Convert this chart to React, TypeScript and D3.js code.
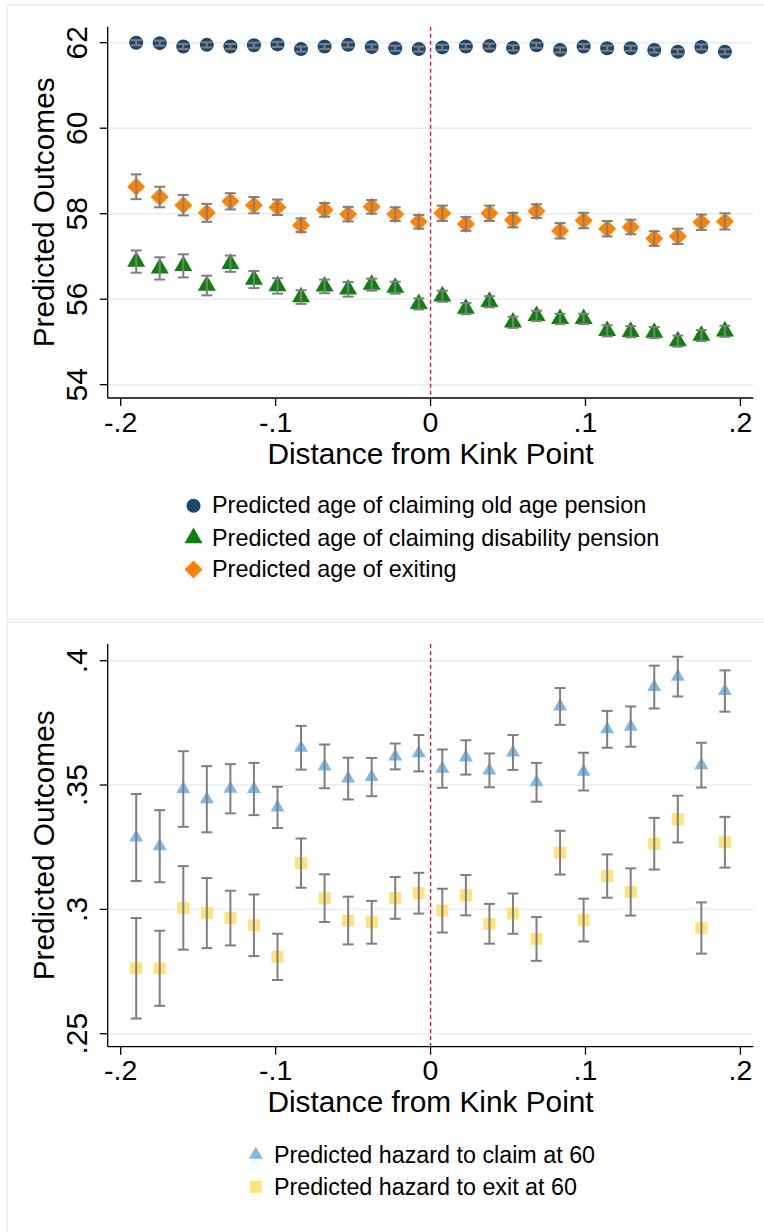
import React from "react";
import * as d3 from "d3";

// ---------- data ----------
const distanceBins = [
  -0.19, -0.1748, -0.1596, -0.1444, -0.1292, -0.114, -0.0988, -0.0836, -0.0684, -0.0532, -0.038, -0.0228, -0.0076,
  0.0076, 0.0228, 0.038, 0.0532, 0.0684, 0.0836, 0.0988, 0.114, 0.1292, 0.1444, 0.1596, 0.1748, 0.19,
];

const ageOldAgePension = [
  62.0, 61.99, 61.91, 61.95, 61.91, 61.94, 61.96, 61.85, 61.91, 61.95, 61.9, 61.87, 61.85,
  61.89, 61.91, 61.92, 61.88, 61.94, 61.83, 61.91, 61.87, 61.87, 61.83, 61.79, 61.9, 61.79,
];
const ageOldAgePensionCI = [
  0.06, 0.06, 0.06, 0.06, 0.06, 0.06, 0.06, 0.06, 0.06, 0.06, 0.06, 0.06, 0.06,
  0.06, 0.06, 0.06, 0.06, 0.06, 0.06, 0.06, 0.06, 0.06, 0.06, 0.06, 0.06, 0.06,
];

const ageDisabilityPension = [
  56.88, 56.72, 56.78, 56.32, 56.83, 56.46, 56.31, 56.05, 56.3, 56.23, 56.34, 56.27, 55.89,
  56.07, 55.78, 55.94, 55.46, 55.61, 55.54, 55.54, 55.26, 55.24, 55.22, 55.02, 55.15, 55.25,
];
const ageDisabilityPensionCI = [
  0.26, 0.26, 0.27, 0.23, 0.19, 0.2, 0.18, 0.16, 0.16, 0.17, 0.14, 0.14, 0.13,
  0.13, 0.13, 0.13, 0.13, 0.12, 0.12, 0.12, 0.13, 0.13, 0.13, 0.13, 0.13, 0.13,
];

const ageExiting = [
  58.63, 58.39, 58.2, 58.02, 58.29, 58.2, 58.15, 57.73, 58.09, 57.99, 58.16, 57.99, 57.81,
  58.01, 57.76, 58.01, 57.85, 58.06, 57.6, 57.84, 57.65, 57.69, 57.42, 57.47, 57.8, 57.82,
];
const ageExitingCI = [
  0.29, 0.24, 0.24, 0.21, 0.19, 0.19, 0.18, 0.16, 0.16, 0.17, 0.16, 0.16, 0.16,
  0.18, 0.16, 0.18, 0.17, 0.16, 0.18, 0.18, 0.18, 0.17, 0.17, 0.18, 0.18, 0.19,
];

const hazardClaim = [
  0.3289, 0.3254, 0.3484, 0.3443, 0.3485, 0.3484, 0.341, 0.365, 0.3575, 0.3526, 0.3532, 0.3615, 0.3628,
  0.3566, 0.3611, 0.3559, 0.3631, 0.3511, 0.3816, 0.3554, 0.3724, 0.3735, 0.3894, 0.3936, 0.358, 0.3878,
];
const hazardClaimCI = [
  0.0175, 0.0145, 0.0152, 0.0133, 0.0099, 0.0105, 0.0083, 0.0088, 0.0088, 0.0084, 0.0077, 0.0052, 0.0073,
  0.0077, 0.0069, 0.0068, 0.007, 0.0078, 0.0074, 0.0076, 0.0074, 0.0081, 0.0086, 0.008, 0.009, 0.0083,
];

const hazardExit = [
  0.2763, 0.2763, 0.3006, 0.2985, 0.2965, 0.2936, 0.2809, 0.3186, 0.3045, 0.2955, 0.2948, 0.3046, 0.3065,
  0.2995, 0.3057, 0.2942, 0.2983, 0.2881, 0.3228, 0.2957, 0.3134, 0.307, 0.3264, 0.3363, 0.2925, 0.327,
];
const hazardExitCI = [
  0.0202, 0.0151, 0.0168, 0.0141, 0.011, 0.0124, 0.0093, 0.0099, 0.0096, 0.0096, 0.0086, 0.0084, 0.0082,
  0.0088, 0.0081, 0.008, 0.0081, 0.0088, 0.0088, 0.0086, 0.0087, 0.0095, 0.0104, 0.0094, 0.0103, 0.0102,
];

const xTicks = [-0.2, -0.1, 0, 0.1, 0.2];
const xTickLabels = ["-.2", "-.1", "0", ".1", ".2"];
const topYTicks = [54, 56, 58, 60, 62];
const topYTickLabels = ["54", "56", "58", "60", "62"];
const bottomYTicks = [0.25, 0.3, 0.35, 0.4];
const bottomYTickLabels = [".25", ".3", ".35", ".4"];

const xTitle = "Distance from Kink Point";
const yTitle = "Predicted Outcomes";

const topLegend = [
  "Predicted age of claiming old age pension",
  "Predicted age of claiming disability pension",
  "Predicted age of exiting",
];
const bottomLegend = ["Predicted hazard to claim at 60", "Predicted hazard to exit at 60"];

// ---------- styles ----------
const FONT = "'Liberation Sans', Arial, Helvetica, sans-serif";
const NAVY = "#1a476f";
const GREEN = "#0b820b";
const ORANGE = "#ff8205";
const LTBLUE = "#7fbae6";
const YELLOW = "#ffe27a";
const BAR = "#7f7f7f";
const GRID = "#e6eef3";
const KINK = "#d8163f";
const FRAME = "#e9eef1";

type Marker = "circle" | "triangle" | "diamond" | "square";

function MarkerShape({ kind, x, y, size, color }: { kind: Marker; x: number; y: number; size: number; color: string }) {
  if (kind === "circle") return <circle cx={x} cy={y} r={size / 2} fill={color} />;
  if (kind === "triangle") {
    const area = (Math.sqrt(3) / 4) * size * size;
    return <path d={d3.symbol(d3.symbolTriangle, area)() || ""} transform={`translate(${x},${y})`} fill={color} />;
  }
  if (kind === "diamond") {
    const side = size / Math.SQRT2;
    return (
      <path d={d3.symbol(d3.symbolSquare, side * side)() || ""} transform={`translate(${x},${y}) rotate(45)`} fill={color} />
    );
  }
  return <path d={d3.symbol(d3.symbolSquare, size * size)() || ""} transform={`translate(${x},${y})`} fill={color} />;
}

type Series = { values: number[]; ci: number[]; marker: Marker; size: number; color: string };

function Panel(props: {
  plotTop: number;
  plotBottom: number;
  yDomain: [number, number];
  yRange: [number, number];
  yTicks: number[];
  yTickLabels: string[];
  series: Series[];
}) {
  const { plotTop, plotBottom, yTicks, yTickLabels, series } = props;
  const left = 107.7;
  const right = 753.3;
  const x = d3.scaleLinear().domain([-0.2, 0.2]).range([120.7, 740.4]);
  const y = d3.scaleLinear().domain(props.yDomain).range(props.yRange);
  const cap = 5.5;
  return (
    <g>
      {yTicks.map((t) => (
        <line key={"g" + t} x1={left} x2={right} y1={y(t)} y2={y(t)} stroke={GRID} strokeWidth={1.6} />
      ))}
      <line x1={x(0)} x2={x(0)} y1={plotTop} y2={plotBottom} stroke={KINK} strokeWidth={1.4} strokeDasharray="4 3" />
      {series.map((s, si) =>
        s.values.map((v, i) => (
          <MarkerShape key={`m${si}-${i}`} kind={s.marker} x={x(distanceBins[i])} y={y(v)} size={s.size} color={s.color} />
        ))
      )}
      {series.map((s, si) =>
        s.values.map((v, i) => {
          const cx = x(distanceBins[i]);
          const y1 = y(v + s.ci[i]);
          const y2 = y(v - s.ci[i]);
          return (
            <g key={`e${si}-${i}`} stroke={BAR} strokeWidth={2}>
              <line x1={cx} x2={cx} y1={y1} y2={y2} />
              <line x1={cx - cap} x2={cx + cap} y1={y1} y2={y1} />
              <line x1={cx - cap} x2={cx + cap} y1={y2} y2={y2} />
            </g>
          );
        })
      )}
      {/* axes */}
      <line x1={left} x2={left} y1={plotTop} y2={plotBottom} stroke="#000" strokeWidth={1.3} />
      <line x1={left} x2={right} y1={plotBottom} y2={plotBottom} stroke="#000" strokeWidth={1.3} />
      {yTicks.map((t, i) => (
        <g key={"yt" + t}>
          <line x1={left - 8} x2={left} y1={y(t)} y2={y(t)} stroke="#000" strokeWidth={1.3} />
          <text
            transform={`translate(86.8,${y(t)}) rotate(-90)`}
            textAnchor="middle"
            fontFamily={FONT}
            fontSize={30}
            fill="#000"
          >
            {yTickLabels[i]}
          </text>
        </g>
      ))}
      {xTicks.map((t, i) => (
        <g key={"xt" + t}>
          <line x1={x(t)} x2={x(t)} y1={plotBottom} y2={plotBottom + 8} stroke="#000" strokeWidth={1.3} />
          <text x={x(t)} y={plotBottom + 33.7} textAnchor="middle" fontFamily={FONT} fontSize={28.5} fill="#000">
            {xTickLabels[i]}
          </text>
        </g>
      ))}
      <text x={(left + right) / 2} y={plotBottom + 65.5} textAnchor="middle" fontFamily={FONT} fontSize={29.8} fill="#000">
        {xTitle}
      </text>
      <text
        transform={`translate(53.8,${(plotTop + plotBottom) / 2}) rotate(-90)`}
        textAnchor="middle"
        fontFamily={FONT}
        fontSize={29.8}
        fill="#000"
      >
        {yTitle}
      </text>
    </g>
  );
}

export default function App() {
  const topSeries: Series[] = [
    { values: ageOldAgePension, ci: ageOldAgePensionCI, marker: "circle", size: 14, color: NAVY },
    { values: ageDisabilityPension, ci: ageDisabilityPensionCI, marker: "triangle", size: 18, color: GREEN },
    { values: ageExiting, ci: ageExitingCI, marker: "diamond", size: 18, color: ORANGE },
  ];
  const bottomSeries: Series[] = [
    { values: hazardClaim, ci: hazardClaimCI, marker: "triangle", size: 14, color: LTBLUE },
    { values: hazardExit, ci: hazardExitCI, marker: "square", size: 12, color: YELLOW },
  ];
  const topLegendMarkers: { kind: Marker; size: number; color: string }[] = [
    { kind: "circle", size: 14, color: NAVY },
    { kind: "triangle", size: 18, color: GREEN },
    { kind: "diamond", size: 18, color: ORANGE },
  ];
  const bottomLegendMarkers: { kind: Marker; size: number; color: string }[] = [
    { kind: "triangle", size: 14, color: LTBLUE },
    { kind: "square", size: 12, color: YELLOW },
  ];
  const topLegendBase = [513.3, 545.5, 577];
  const bottomLegendBase = [1163.3, 1195.3];
  return (
    <svg
      width={764}
      height={1232}
      style={{ position: "absolute", left: 0, top: 0, background: "#fff" }}
      xmlns="http://www.w3.org/2000/svg"
    >
      <rect x={0} y={0} width={764} height={1232} fill="#fff" />
      <rect x={7} y={5} width={780} height={614.3} fill="#fff" stroke={FRAME} strokeWidth={1.6} />
      <rect x={7} y={622.3} width={780} height={640} fill="#fff" stroke={FRAME} strokeWidth={1.6} />
      <Panel
        plotTop={26.7}
        plotBottom={398}
        yDomain={[54, 62]}
        yRange={[384.7, 42.7]}
        yTicks={topYTicks}
        yTickLabels={topYTickLabels}
        series={topSeries}
      />
      <Panel
        plotTop={644}
        plotBottom={1046.7}
        yDomain={[0.25, 0.4]}
        yRange={[1033.7, 660.7]}
        yTicks={bottomYTicks}
        yTickLabels={bottomYTickLabels}
        series={bottomSeries}
      />
      {topLegend.map((label, i) => (
        <g key={"tl" + i}>
          <MarkerShape kind={topLegendMarkers[i].kind} x={193.5} y={topLegendBase[i] - 7.5} size={topLegendMarkers[i].size} color={topLegendMarkers[i].color} />
          <text x={212} y={topLegendBase[i]} fontFamily={FONT} fontSize={23.4} fill="#000">
            {label}
          </text>
        </g>
      ))}
      {bottomLegend.map((label, i) => (
        <g key={"bl" + i}>
          <MarkerShape kind={bottomLegendMarkers[i].kind} x={255.8} y={bottomLegendBase[i] - 8.5} size={bottomLegendMarkers[i].size} color={bottomLegendMarkers[i].color} />
          <text x={273.9} y={bottomLegendBase[i]} fontFamily={FONT} fontSize={23.3} fill="#000">
            {label}
          </text>
        </g>
      ))}
    </svg>
  );
}
